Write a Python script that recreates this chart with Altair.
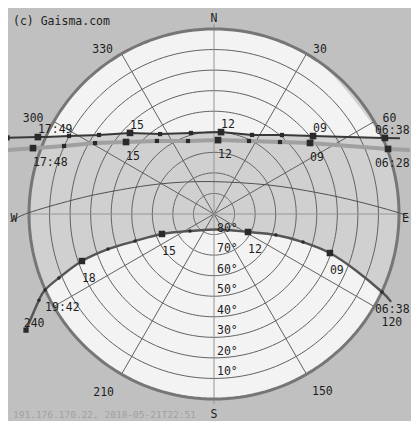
import altair as alt
import pandas as pd

FONT = "DejaVu Sans Mono"

# ---------------- data ----------------
# Sun paths: azimuth (deg, clockwise from north) and altitude (deg)
# June solstice (dark line)
jun_t = ["end", "06:38", "rise", "09", "10", "11", "12", "13", "14", "15", "16", "17", "set", "17:49", "end"]
jun_az = [67.8, 66.0, 65.75, 51.8, 40.7, 25.7, 4.9, 344.1, 326.0, 314.0, 304.5, 298.3, 294.6, 293.6, 290.2]
jun_alt = [-7.7, -1.0, 0.0, 28.7, 39.3, 47.3, 50.0, 49.0, 43.1, 33.2, 22.1, 9.9, 0.0, -3.5, -17.3]
jun_mk = ["N", "L", "N", "L", "S", "S", "L", "S", "S", "L", "S", "S", "N", "L", "M"]
jun_lab = ["", "06:38", "", "09", "", "", "12", "", "", "15", "", "", "", "17:49", ""]

# Today, 2018-05-21 (light thick line)
may_t = ["end", "06:28", "09", "10", "11", "12", "13", "14", "15", "16", "17", "17:48", "end"]
may_az = [71.9, 69.5, 53.5, 42.5, 25.6, 3.1, 340.4, 322.0, 309.3, 300.8, 294.4, 290.0, 287.0]
may_alt = [-10.3, -0.4, 31.9, 42.5, 50.6, 54.0, 52.3, 44.9, 34.7, 22.6, 9.9, -3.7, -16.3]
may_mk = ["N", "L", "L", "S", "S", "L", "S", "S", "L", "S", "S", "L", "N"]
may_lab = ["", "06:28", "09", "", "", "12", "", "", "15", "", "", "17:48", ""]

# December solstice (lower curve)
dec_t = ["end", "06:38", "08", "09", "10", "11", "12", "13", "14", "15", "16", "17", "18", "19", "19:42", "20", "end"]
dec_az = [116.4, 114.9, 111.7, 108.6, 107.5, 108.7, 117.9, 162.1, 234.7, 249.0, 251.1, 251.7, 250.4, 247.6, 245.8, 243.8, 238.3]
dec_alt = [-6.2, -0.1, 15.7, 30.5, 44.6, 58.2, 71.3, 82.1, 75.7, 62.9, 49.4, 35.7, 21.8, 8.4, -0.1, -4.9, -17.5]
dec_mk = ["N", "S", "N", "L", "S", "S", "L", "N", "S", "L", "S", "S", "L", "S", "S", "S", "M"]
dec_lab = ["", "06:38", "", "09", "", "", "12", "", "", "15", "", "", "18", "", "19:42", "", ""]

# Equinox path (thin line)
equ_az = [91.2, 89.8, 85.2, 78.7, 62.2, 353.0, 299.1, 282.1, 275.7, 270.3, 267.8]
equ_alt = [-4.9, -0.8, 19.2, 37.9, 59.8, 74.1, 59.9, 38.3, 21.1, -0.5, -9.3]

# grid
alt_rings = [10, 20, 30, 40, 50, 60, 70, 80]
az_ticks = [30, 60, 120, 150, 210, 240, 300, 330]
card_lab = ["N", "E", "S", "W"]
card_az = [0, 90, 180, 270]
copyright_txt = "(c) Gaisma.com"
footer_txt = "191.176.170.22, 2018-05-21T22:51"

# ---------------- style ----------------
BG = "#c0c0c0"
BAND = "#d0d0d0"
WHITE = "#f3f3f3"
GRID = "#626262"
RING = "#767676"
AXIS = "#969696"
EQU = "#505050"
JUN = "#383838"
MAY = "#a0a0a0"
DEC = "#555555"
MARK = "#2a2a2a"
TXT = "#1e1e1e"
FOOT = "#a0a0a0"

W_PX, H_PX = 403, 413
xs = alt.Scale(domain=[-100.22, 95.84], nice=False, zero=False)
ys = alt.Scale(domain=[-100.70, 100.22], nice=False, zero=False)


def X(f="px"):
    return alt.X(f"{f}:Q", scale=xs, axis=None)


def Y(f="py"):
    return alt.Y(f"{f}:Q", scale=ys, axis=None)


PROJ = dict(
    px="(90 - datum.alt) * sin(datum.az * PI / 180)",
    py="(90 - datum.alt) * cos(datum.az * PI / 180)",
)


def path_df(t, az, al, mk, lab):
    return pd.DataFrame({"i": list(range(len(t))), "t": t, "az": az, "alt": al, "mk": mk, "lab": lab})


jun_df = path_df(jun_t, jun_az, jun_alt, jun_mk, jun_lab)
may_df = path_df(may_t, may_az, may_alt, may_mk, may_lab)
dec_df = path_df(dec_t, dec_az, dec_alt, dec_mk, dec_lab)
equ_df = pd.DataFrame({"i": list(range(len(equ_az))), "az": equ_az, "alt": equ_alt})


def base(df):
    return alt.Chart(df).transform_calculate(**PROJ)


layers = []

# sky disk (band colour)
layers.append(
    alt.Chart(alt.sequence(-90, 90.25, 0.25, as_="px"))
    .transform_calculate(
        py="sqrt(max(0, 8100 - datum.px * datum.px))",
        py2="-sqrt(max(0, 8100 - datum.px * datum.px))",
    )
    .mark_area(color=BAND, orient="vertical")
    .encode(x=X(), y=Y(), y2="py2:Q")
)

# north cap (above June path)
layers.append(
    base(jun_df)
    .transform_filter("datum.alt >= -0.5")
    .transform_calculate(ct="sqrt(max(0, 8100 - datum.px * datum.px))")
    .transform_calculate(lo="min(datum.py, datum.ct)")
    .mark_area(color=WHITE, orient="vertical", interpolate="monotone")
    .encode(x=X(), y=Y("lo"), y2="ct:Q")
)
# south cap (below December path)
layers.append(
    base(dec_df)
    .transform_filter("datum.alt >= -0.5")
    .transform_calculate(cb="-sqrt(max(0, 8100 - datum.px * datum.px))")
    .transform_calculate(hi="max(datum.py, datum.cb)")
    .mark_area(color=WHITE, orient="vertical", interpolate="monotone")
    .encode(x=X(), y=Y("cb"), y2="hi:Q")
)

# altitude rings
layers.append(
    alt.Chart(pd.DataFrame({"ring": alt_rings}))
    .transform_calculate(t="sequence(0, 361, 2)")
    .transform_flatten(["t"])
    .transform_calculate(
        px="(90 - datum.ring) * sin(datum.t * PI / 180)",
        py="(90 - datum.ring) * cos(datum.t * PI / 180)",
    )
    .mark_line(color=GRID, strokeWidth=1)
    .encode(x=X(), y=Y(), detail="ring:N", order="t:Q")
)

# radial azimuth lines
layers.append(
    alt.Chart(pd.DataFrame({"az": az_ticks}))
    .transform_calculate(
        x0="0", y0="0",
        px="90 * sin(datum.az * PI / 180)",
        py="90 * cos(datum.az * PI / 180)",
    )
    .mark_rule(color=GRID, strokeWidth=1)
    .encode(x=X("x0"), y=Y("y0"), x2="px:Q", y2="py:Q")
)
# N-S / W-E axes
layers.append(
    alt.Chart(pd.DataFrame({"az": card_az}))
    .transform_calculate(L="datum.az % 180 == 0 ? 92.5 : 90.5")
    .transform_calculate(
        x0="0", y0="0",
        px="datum.L * sin(datum.az * PI / 180)",
        py="datum.L * cos(datum.az * PI / 180)",
    )
    .mark_rule(color=AXIS, strokeWidth=1)
    .encode(x=X("x0"), y=Y("y0"), x2="px:Q", y2="py:Q")
)

# outer horizon ring
layers.append(
    alt.Chart(pd.DataFrame({"ring": [0]}))
    .transform_calculate(t="sequence(0, 361, 2)")
    .transform_flatten(["t"])
    .transform_calculate(
        px="(90 - datum.ring) * sin(datum.t * PI / 180)",
        py="(90 - datum.ring) * cos(datum.t * PI / 180)",
    )
    .mark_line(color=RING, strokeWidth=3)
    .encode(x=X(), y=Y(), detail="ring:N", order="t:Q")
)

# equinox path
layers.append(
    base(equ_df).mark_line(color=EQU, strokeWidth=1, interpolate="cardinal")
    .encode(x=X(), y=Y(), order="i:Q")
)

# sun paths
layers.append(base(may_df).mark_line(color=MAY, strokeWidth=4).encode(x=X(), y=Y(), order="i:Q"))
layers.append(base(jun_df).mark_line(color=JUN, strokeWidth=2).encode(x=X(), y=Y(), order="i:Q"))
layers.append(
    base(dec_df).mark_line(color=DEC, strokeWidth=2.4, interpolate="cardinal")
    .encode(x=X(), y=Y(), order="i:Q")
)


def markers(df, mk, shape, size, color=MARK):
    return (
        base(df).transform_filter(f"datum.mk == '{mk}'")
        .mark_point(shape=shape, size=size, filled=True, color=color, opacity=1)
        .encode(x=X(), y=Y())
    )


for df in (may_df, jun_df):
    layers.append(markers(df, "L", "square", 44))
    layers.append(markers(df, "M", "square", 28))
    layers.append(markers(df, "S", "square", 18))
layers.append(markers(dec_df, "L", "square", 42))
layers.append(markers(dec_df, "M", "square", 28))
layers.append(markers(dec_df, "S", "circle", 12))


def labels(df, baseline, dy):
    # labels near the right-hand edge are kept on the page
    return (
        base(df).transform_filter("datum.lab != ''")
        .transform_calculate(px2="min(datum.px, 78.3)")
        .mark_text(align="left", baseline=baseline, dy=dy, font=FONT, fontSize=11.5, color=TXT)
        .encode(x=X("px2"), y=Y(), text="lab:N")
    )


layers.append(labels(jun_df, "bottom", -2))
layers.append(labels(may_df, "top", 9))
layers.append(labels(dec_df, "top", 12))

# altitude labels along the south axis
alt_df = pd.DataFrame({"ring": alt_rings, "lab": [f"{a}°" for a in alt_rings]})
layers.append(
    alt.Chart(alt_df)
    .transform_calculate(px="0", py="-(90 - datum.ring)")
    .mark_text(align="left", baseline="bottom", dx=3, dy=-1, font=FONT, fontSize=11.5, color=TXT)
    .encode(x=X(), y=Y(), text="lab:N")
)

# azimuth labels
az_df = pd.DataFrame({"az": az_ticks, "lab": [str(a) for a in az_ticks]})
quads = [
    (270, 360, "right", "middle", -6, 0),
    (0, 90, "left", "middle", 4, 0),
    (90, 180, "left", "top", 3, 8),
    (180, 270, "right", "top", -5, 9),
]
for lo, hi, al, bl, dx, dy in quads:
    layers.append(
        alt.Chart(az_df)
        .transform_filter(f"datum.az > {lo} && datum.az < {hi}")
        .transform_calculate(
            px="92.4 * sin(datum.az * PI / 180)",
            py="92.4 * cos(datum.az * PI / 180)",
        )
        .mark_text(align=al, baseline=bl, dx=dx, dy=dy, font=FONT, fontSize=11.5, color=TXT)
        .encode(x=X(), y=Y(), text="lab:N")
    )

# cardinal letters
layers.append(
    alt.Chart(pd.DataFrame({"az": card_az, "lab": card_lab}))
    .transform_calculate(r="datum.az == 90 ? 93.2 : (datum.az == 180 ? 95.4 : 97.3)")
    .transform_calculate(
        px="datum.r * sin(datum.az * PI / 180)",
        py="datum.r * cos(datum.az * PI / 180)",
    )
    .mark_text(align="center", baseline="middle", dy=5, font=FONT, fontSize=11.5, color=TXT)
    .encode(x=X(), y=Y(), text="lab:N")
)

# copyright and footer
layers.append(
    alt.Chart(pd.DataFrame({"s": [copyright_txt]}))
    .mark_text(align="left", baseline="top", font=FONT, fontSize=11.5, color=TXT)
    .encode(x=alt.value(5), y=alt.value(8), text="s:N")
)
layers.append(
    alt.Chart(pd.DataFrame({"s": [footer_txt]}))
    .mark_text(align="left", baseline="alphabetic", font=FONT, fontSize=9.5, color=FOOT)
    .encode(x=alt.value(5), y=alt.value(410), text="s:N")
)

chart = (
    alt.layer(*layers)
    .properties(width=W_PX, height=H_PX, background=BG, padding=0,
                autosize=alt.AutoSizeParams(type="none"))
    .configure_view(stroke=None)
)

chart.save("out.html", embed_options={"renderer": "svg", "actions": False})
